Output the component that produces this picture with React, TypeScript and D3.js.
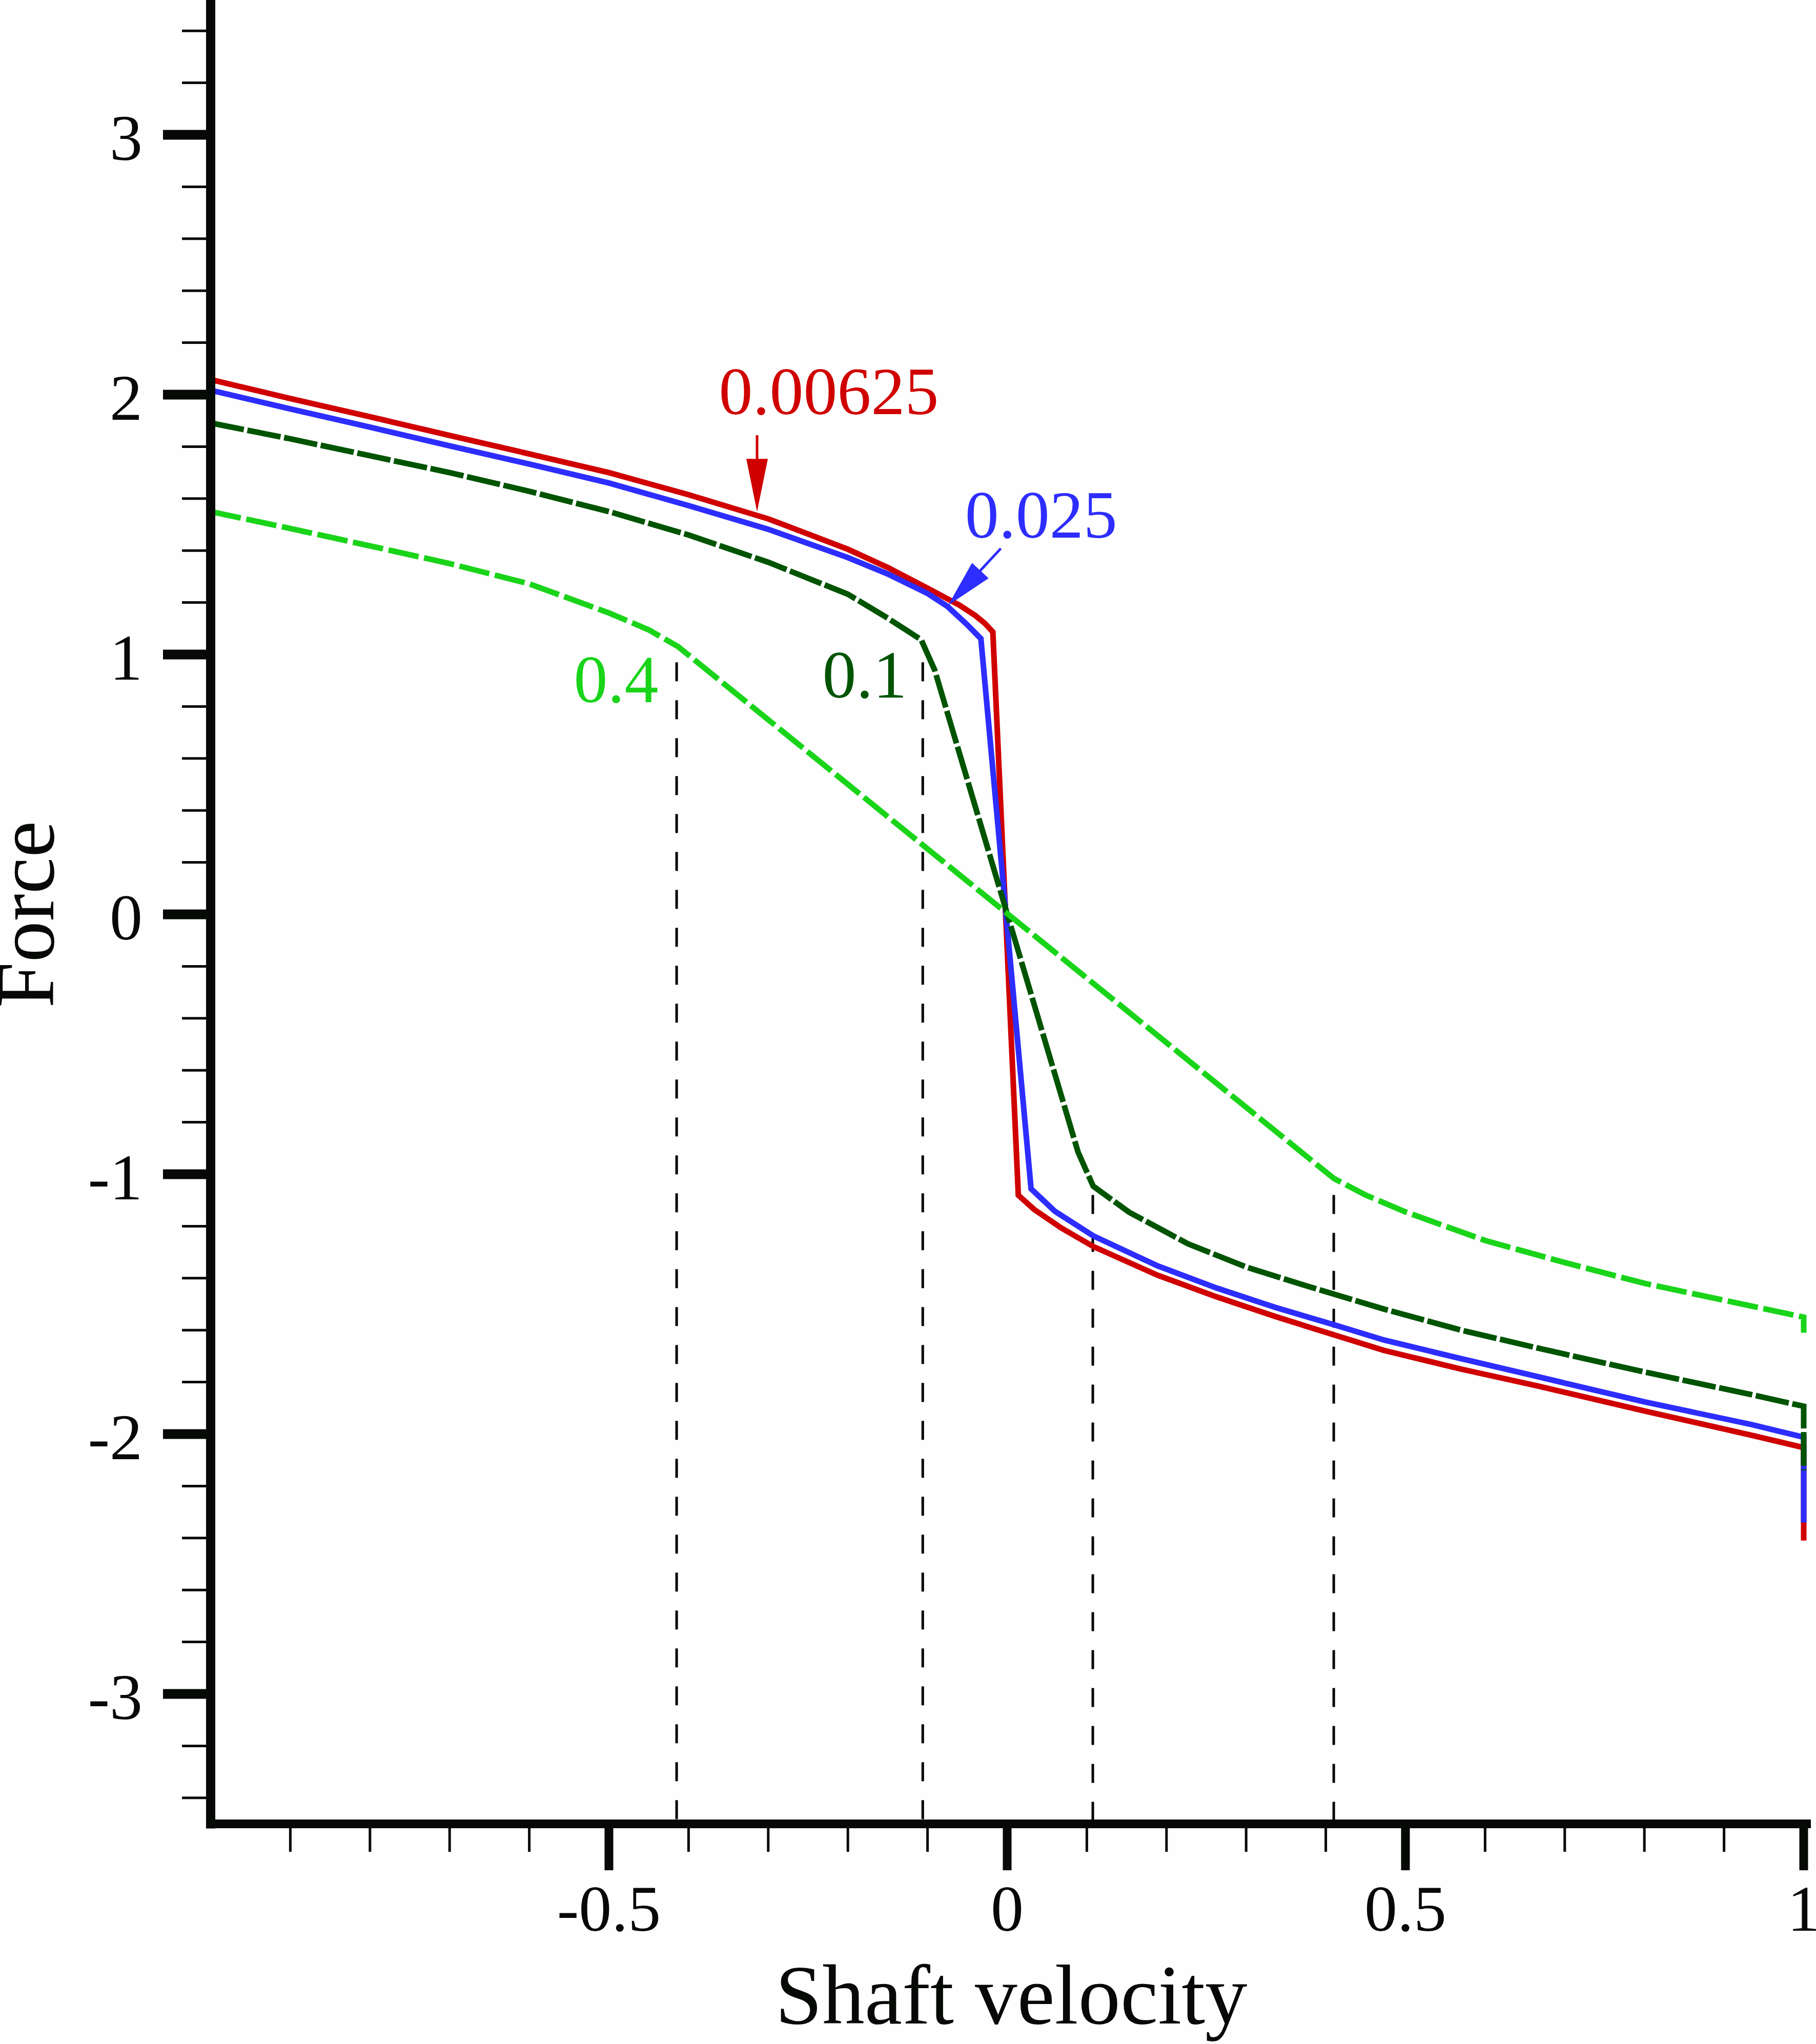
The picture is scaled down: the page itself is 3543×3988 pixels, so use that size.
import React from "react";
import * as d3 from "d3";

// ---------- data ----------
const curve00625: [number, number][] = [
  [-1, 2.058], [-0.9, 1.985], [-0.8, 1.915], [-0.7, 1.843], [-0.6, 1.772], [-0.5, 1.7],
  [-0.4, 1.615], [-0.3, 1.522], [-0.2, 1.405], [-0.15, 1.335], [-0.1, 1.255],
  [-0.06, 1.19], [-0.04, 1.15], [-0.028, 1.12], [-0.018, 1.087],
  [0.014, -1.081], [0.034, -1.136], [0.068, -1.207], [0.108, -1.278], [0.189, -1.389],
  [0.263, -1.472], [0.337, -1.548], [0.411, -1.619], [0.473, -1.678], [0.57, -1.75],
  [0.666, -1.815], [0.8, -1.911], [0.934, -2.004], [1, -2.052], [1, -2.41],
];
const curve025: [number, number][] = [
  [-1, 2.017], [-0.9, 1.945], [-0.8, 1.875], [-0.7, 1.803], [-0.6, 1.733], [-0.5, 1.66],
  [-0.4, 1.573], [-0.3, 1.482], [-0.2, 1.373], [-0.15, 1.31], [-0.1, 1.235],
  [-0.075, 1.185], [-0.051, 1.117], [-0.033, 1.061], [0.03, -1.056], [0.06, -1.143],
  [0.108, -1.237], [0.189, -1.353], [0.263, -1.438], [0.337, -1.513], [0.411, -1.58],
  [0.473, -1.638], [0.57, -1.71], [0.666, -1.779], [0.8, -1.876], [0.934, -1.963],
  [1, -2.012], [1, -2.34],
];
const curve01: [number, number][] = [
  [-1, 1.891], [-0.9, 1.83], [-0.8, 1.765], [-0.7, 1.7], [-0.6, 1.628], [-0.5, 1.55],
  [-0.4, 1.46], [-0.3, 1.355], [-0.2, 1.232], [-0.15, 1.14], [-0.108, 1.057],
  [-0.091, 0.94], [0.089, -0.915], [0.108, -1.046], [0.153, -1.146],
  [0.227, -1.268], [0.3, -1.357], [0.374, -1.428], [0.473, -1.519], [0.57, -1.6],
  [0.666, -1.669], [0.8, -1.761], [0.934, -1.848], [1, -1.893], [1, -2.14],
];
const curve04: [number, number][] = [
  [-1, 1.55], [-0.9, 1.485], [-0.8, 1.418], [-0.7, 1.35], [-0.6, 1.272], [-0.5, 1.16],
  [-0.45, 1.095], [-0.413, 1.03], [0.41, -1.016], [0.45, -1.08], [0.5, -1.145],
  [0.6, -1.255], [0.7, -1.34], [0.8, -1.42], [0.9, -1.485], [1, -1.55], [1, -1.61],
];

const seriesNames = ["0.00625", "0.025", "0.1", "0.4"];
const seriesColors = ["#d00000", "#2d2dff", "#005400", "#19d419"];
const seriesDash = [null, null, "66 7", "60 11"];

// vertical guide lines: [velocity, top force]
const guideLines: [number, number][] = [
  [-0.415, 0.97], [-0.106, 0.97], [0.1075, -1.08], [0.41, -1.08],
];

// labels: [text start velocity, baseline force]
const labelPos: [number, number][] = [
  [-0.362, 1.925], [-0.053, 1.45], [-0.232, 0.834], [-0.544, 0.817],
];
// arrows: [tailV, tailF, tipV, tipF]
const arrowRed = [-0.314, 1.844, -0.314, 1.55];
const arrowBlue = [-0.008, 1.408, -0.074, 1.19];

const xMajor = [-0.5, 0, 0.5, 1];
const xMajorLabels = ["-0.5", "0", "0.5", "1"];
const xMinor = [-0.9, -0.8, -0.7, -0.6, -0.4, -0.3, -0.2, -0.1, 0.1, 0.2, 0.3, 0.4, 0.6, 0.7, 0.8, 0.9];
const yMajor = [-3, -2, -1, 0, 1, 2, 3];
const yMajorLabels = ["-3", "-2", "-1", "0", "1", "2", "3"];
const yMinor = [-3.4, -3.2, -2.8, -2.6, -2.4, -2.2, -1.8, -1.6, -1.4, -1.2, -0.8, -0.6, -0.4, -0.2,
  0.2, 0.4, 0.6, 0.8, 1.2, 1.4, 1.6, 1.8, 2.2, 2.4, 2.6, 2.8, 3.2, 3.4];

const W = 3543;
const H = 3988;
const FONT = "'Liberation Serif', 'Times New Roman', serif";
const AXIS = "#060906";

export default function App() {
  const x = d3.scaleLinear().domain([-1, 1]).range([411, 3519]);
  const y = d3.scaleLinear().domain([-3.5, 3.5]).range([3558.5, 9.5]);
  const line = d3.line<[number, number]>().x((d) => x(d[0])).y((d) => y(d[1]));
  const curves = [curve00625, curve025, curve01, curve04];

  const axisX = x(-1);
  const axisY = y(-3.5);
  const axisW = 18;

  const arrow = (a: number[], color: string, headLen: number, halfW: number) => {
    const x0 = x(a[0]), y0 = y(a[1]), x1 = x(a[2]), y1 = y(a[3]);
    const dx = x1 - x0, dy = y1 - y0;
    const len = Math.hypot(dx, dy);
    const ux = dx / len, uy = dy / len;
    const bx = x1 - ux * headLen, by = y1 - uy * headLen;
    const px = -uy, py = ux;
    const pts = [
      [x1, y1],
      [bx + px * halfW, by + py * halfW],
      [bx - px * halfW, by - py * halfW],
    ].map((p) => p.join(",")).join(" ");
    return (
      <g>
        <line x1={x0} y1={y0} x2={bx + ux * 2} y2={by + uy * 2} stroke={color} strokeWidth={5} />
        <polygon points={pts} fill={color} />
      </g>
    );
  };

  return (
    <svg width={W} height={H} style={{ position: "absolute", left: 0, top: 0, background: "#fdfefd" }}
      xmlns="http://www.w3.org/2000/svg">
      <rect x={0} y={0} width={W} height={H} fill="#fdfefd" />

      {/* guide lines */}
      {guideLines.map((g, i) => (
        <line key={"g" + i} x1={x(g[0])} x2={x(g[0])} y1={y(g[1])} y2={axisY}
          stroke="#000" strokeWidth={5} strokeDasharray="37 37" />
      ))}

      {/* curves */}
      {curves.map((c, i) => (
        <path key={"c" + i} d={line(c) || ""} fill="none" stroke={seriesColors[i]}
          strokeWidth={11} strokeDasharray={seriesDash[i] || undefined} strokeLinejoin="miter" />
      ))}

      {/* labels */}
      {seriesNames.map((n, i) => (
        <text key={"l" + i} x={x(labelPos[i][0])} y={y(labelPos[i][1])} fill={seriesColors[i]}
          fontFamily={FONT} fontSize={132}>{n}</text>
      ))}
      {arrow(arrowRed, seriesColors[0], 103, 21)}
      {arrow(arrowBlue, seriesColors[1], 92, 22)}

      {/* y axis */}
      <line x1={axisX} x2={axisX} y1={0} y2={axisY + axisW / 2} stroke={AXIS} strokeWidth={axisW} />
      {yMinor.map((v) => (
        <line key={"ym" + v} x1={axisX - axisW / 2 - 47} x2={axisX} y1={y(v)} y2={y(v)} stroke={AXIS} strokeWidth={5} />
      ))}
      {yMajor.map((v, i) => (
        <g key={"yM" + v}>
          <line x1={axisX - axisW / 2 - 84} x2={axisX} y1={y(v)} y2={y(v)} stroke={AXIS} strokeWidth={19} />
          <text x={278} y={y(v) + 49} textAnchor="end" fontFamily={FONT} fontSize={128} fill={AXIS}>{yMajorLabels[i]}</text>
        </g>
      ))}

      {/* x axis */}
      <line x1={axisX - axisW / 2} x2={3533} y1={axisY} y2={axisY} stroke={AXIS} strokeWidth={17} />
      {xMinor.map((v) => (
        <line key={"xm" + v} x1={x(v)} x2={x(v)} y1={axisY} y2={axisY + 8.5 + 46} stroke={AXIS} strokeWidth={5} />
      ))}
      {xMajor.map((v, i) => (
        <g key={"xM" + v}>
          <line x1={x(v)} x2={x(v)} y1={axisY} y2={axisY + 8.5 + 82} stroke={AXIS} strokeWidth={17} />
          <text x={x(v)} y={3767} textAnchor="middle" fontFamily={FONT} fontSize={128} fill={AXIS}>{xMajorLabels[i]}</text>
        </g>
      ))}

      {/* axis titles */}
      <text x={1973} y={3948} textAnchor="middle" fontFamily={FONT} fontSize={165} fill={AXIS}>Shaft velocity</text>
      <text transform={`translate(104, ${y(0)}) rotate(-90)`} textAnchor="middle" fontFamily={FONT}
        fontSize={160} fill={AXIS}>Force</text>
    </svg>
  );
}
